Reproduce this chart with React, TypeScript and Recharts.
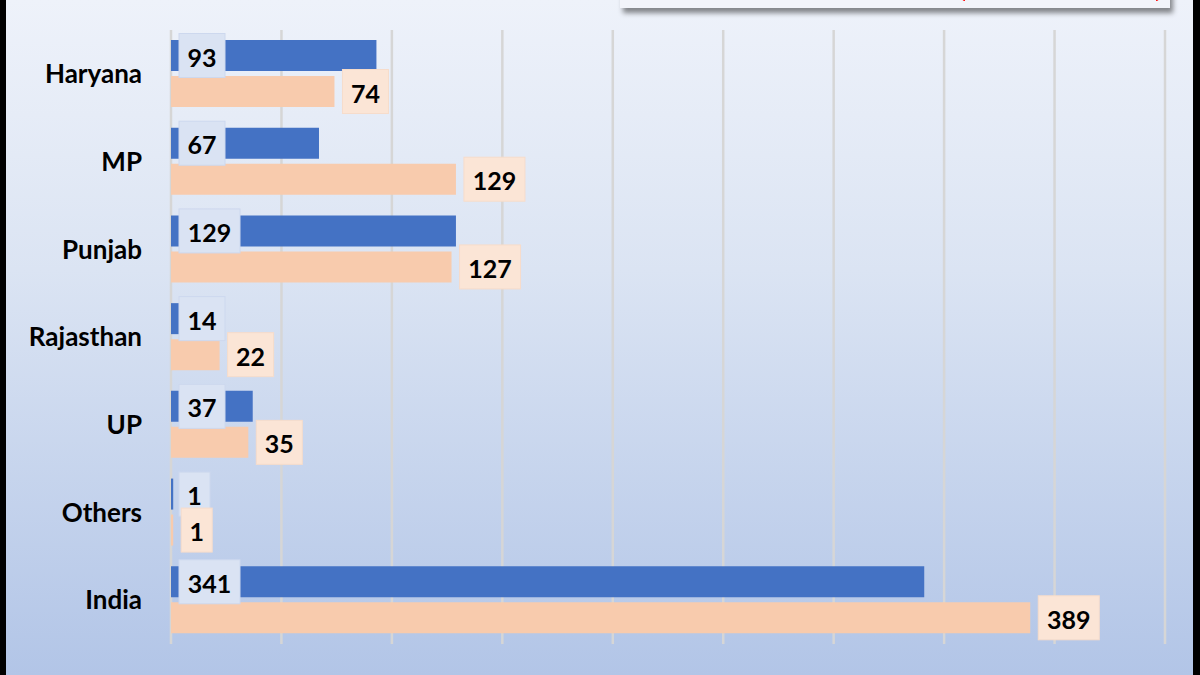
import React from "react";
import { BarChart, Bar, XAxis, YAxis, CartesianGrid, LabelList } from "recharts";

const states = ["Haryana", "MP", "Punjab", "Rajasthan", "UP", "Others", "India"];
const blueValues = [93, 67, 129, 14, 37, 1, 341];
const peachValues = [74, 129, 127, 22, 35, 1, 389];
const xTicks = [0, 50, 100, 150, 200, 250, 300, 350, 400, 450];

const data = states.map((name, i) => ({
    name,
    blue: blueValues[i],
    peach: peachValues[i],
}));

const FONT = "Lato, 'Open Sans', sans-serif";

function boxWidth(v: number) {
    return String(v).length * 15 + 16;
}

// label sitting at the start of the blue bar
function BlueLabel(props: any) {
    const { x, y, height, value } = props;
    const w = boxWidth(value);
    const cy = y + height / 2;
    return (
        <g>
            <rect x={x + 8} y={cy - 22} width={w} height={44} fill="#dae3f3" stroke="#cdd8ee" strokeWidth={1} />
            <text x={x + 8 + w / 2} y={cy + 1} textAnchor="middle" dominantBaseline="central"
                fontFamily={FONT} fontWeight="bold" fontSize={25} fill="#000">
                {value}
            </text>
        </g>
    );
}

// label placed just past the end of the peach bar
function PeachLabel(props: any) {
    const { x, y, width, height, value } = props;
    const w = boxWidth(value);
    const cy = y + height / 2;
    const bx = x + width + 8;
    return (
        <g>
            <rect x={bx} y={cy - 22} width={w} height={44} fill="#fbe5d6" stroke="#f6dccb" strokeWidth={1} />
            <text x={bx + w / 2} y={cy + 1} textAnchor="middle" dominantBaseline="central"
                fontFamily={FONT} fontWeight="bold" fontSize={25} fill="#000">
                {value}
            </text>
        </g>
    );
}

export default function App() {
    return (
        <div style={{ position: "absolute", left: 0, top: 0, width: 1200, height: 675, background: "#000", overflow: "hidden" }}>
            <div
                style={{
                    position: "absolute",
                    left: 6,
                    top: 0,
                    width: 1187,
                    height: 675,
                    background: "linear-gradient(180deg, #eef2fa 0%, #dbe4f3 40%, #b2c5e7 100%)",
                }}
            >
                <BarChart
                    width={1187}
                    height={675}
                    data={data}
                    layout="vertical"
                    margin={{ top: 30, right: 28, bottom: 31, left: 0 }}
                    barSize={31}
                    barGap={5}
                >
                    <CartesianGrid horizontal={false} stroke="#d6d6d6" strokeWidth={2.5} />
                    <XAxis type="number" domain={[0, 450]} ticks={xTicks} hide />
                    <YAxis
                        type="category"
                        dataKey="name"
                        width={165}
                        axisLine={false}
                        tickLine={false}
                        tickSize={0}
                        tickMargin={29}
                        tick={{ fill: "#000", fontSize: 26, fontWeight: "bold", fontFamily: FONT }}
                    />
                    <Bar dataKey="blue" fill="#4472c4" isAnimationActive={false}>
                        <LabelList dataKey="blue" content={<BlueLabel />} />
                    </Bar>
                    <Bar dataKey="peach" fill="#f8cbad" isAnimationActive={false}>
                        <LabelList dataKey="peach" content={<PeachLabel />} />
                    </Bar>
                </BarChart>
                {/* box cut off at the top edge, only the tails of its red brackets show */}
                <div
                    style={{
                        position: "absolute",
                        left: 614,
                        top: -20,
                        width: 550,
                        height: 28,
                        background: "#f2f4fa",
                        boxShadow: "3px 5px 5px rgba(0,0,0,0.45)",
                        overflow: "hidden",
                    }}
                >
                    <div style={{ position: "absolute", left: 342, top: 18, width: 3, height: 3, background: "#ff0000", borderRadius: "0 0 0 3px" }} />
                    <div style={{ position: "absolute", left: 536, top: 18, width: 3, height: 3, background: "#ff0000", borderRadius: "0 0 3px 0" }} />
                </div>
            </div>
        </div>
    );
}
